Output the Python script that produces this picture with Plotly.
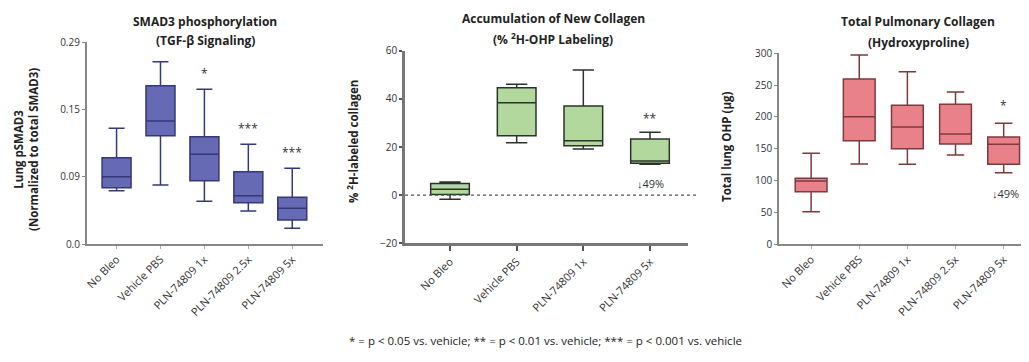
import plotly.graph_objects as go

# ---- data ----
cats5 = ["No Bleo", "Vehicle PBS", "PLN-74809 1x", "PLN-74809 2.5x", "PLN-74809 5x"]
cats4 = ["No Bleo", "Vehicle PBS", "PLN-74809 1x", "PLN-74809 5x"]

# Panel 1: SMAD3 (axis scale 0..0.29, evenly spaced labels)
smad_lo = [0.0765, 0.0847, 0.0613, 0.0474, 0.0225]
smad_q1 = [0.0808, 0.1555, 0.0909, 0.0593, 0.0345]
smad_med = [0.0966, 0.1766, 0.1288, 0.0693, 0.0513]
smad_q3 = [0.1239, 0.2273, 0.1540, 0.1038, 0.0670]
smad_hi = [0.1661, 0.2617, 0.2221, 0.1431, 0.1087]
smad_ticktext = ["0.0", "0.09", "0.15", "0.29"]
smad_sig = ["", "", "*", "***", "***"]

# Panel 2: % 2H labeled collagen
lab_lo = [-1.7, 21.8, 19.2, 12.8]
lab_q1 = [0.3, 24.7, 20.5, 13.2]
lab_med = [2.5, 38.4, 22.6, 14.2]
lab_q3 = [4.8, 44.6, 37.0, 23.3]
lab_hi = [5.5, 46.1, 52.0, 26.1]
lab_sig = ["", "", "", "**"]

# Panel 3: Total lung OHP
ohp_lo = [50.8, 125.8, 125.4, 140.0, 112.2]
ohp_q1 = [82.3, 162.5, 150.0, 157.3, 125.4]
ohp_med = [99.1, 200.2, 184.0, 173.0, 156.8]
ohp_q3 = [103.3, 259.6, 218.2, 220.0, 168.3]
ohp_hi = [142.7, 297.3, 271.0, 239.0, 189.9]
ohp_sig = ["", "", "", "", "*"]

# ---- layout helpers (page has an 8px body margin) ----
OFF = 8
W, H = 1029 - 2 * OFF, 362 - 2 * OFF


def PX(X):
    return min(1.0, max(0.0, (X - OFF) / W))


def PY(Y):
    return 1 - (Y - OFF) / H


FONT = "Open Sans, Liberation Sans, sans-serif"

fig = go.Figure()


def add_box(xa, ya, cats, lo, q1, med, q3, hi, fill, line, width):
    fig.add_trace(go.Box(
        x=list(range(len(cats))), q1=q1, median=med, q3=q3,
        lowerfence=lo, upperfence=hi,
        fillcolor=fill, line=dict(color=line, width=1.5),
        width=width, whiskerwidth=0.55,
        xaxis=xa, yaxis=ya, showlegend=False, boxpoints=False,
        hoverinfo="skip"))


add_box("x", "y", cats5, smad_lo, smad_q1, smad_med, smad_q3, smad_hi,
        "#6669b3", "#353879", 0.66)
add_box("x2", "y2", cats4, lab_lo, lab_q1, lab_med, lab_q3, lab_hi,
        "#b2d89e", "#2b3328", 0.58)
add_box("x3", "y3", cats5, ohp_lo, ohp_q1, ohp_med, ohp_q3, ohp_hi,
        "#e9818a", "#7d3a3e", 0.66)

tickfont = dict(family=FONT, size=10, color="#333")
xtickfont = dict(family=FONT, size=11, color="#333")

common_x = dict(showgrid=False, zeroline=False, showline=True, linecolor="#888",
                linewidth=1.5, tickangle=-45, tickfont=xtickfont, ticks="outside",
                ticklen=3, tickcolor="#aaa", automargin=False)
common_y = dict(showgrid=False, zeroline=False, showline=True, linecolor="#888",
                linewidth=1.5, tickfont=tickfont, ticks="outside", ticklen=3,
                tickcolor="#888", automargin=False)

fig.update_layout(
    width=W, height=H, margin=dict(l=0, r=0, t=0, b=0, autoexpand=False),
    paper_bgcolor="white", plot_bgcolor="white",
    xaxis=dict(common_x, domain=[PX(86.7), PX(323)], range=[-0.68, 4.7],
               tickvals=list(range(5)), ticktext=cats5, anchor="y"),
    yaxis=dict(common_y, domain=[PY(244), PY(42)], range=[0, 0.29],
               tickvals=[0, 0.29 / 3, 2 * 0.29 / 3, 0.29], ticktext=smad_ticktext,
               anchor="x"),
    xaxis2=dict(common_x, domain=[PX(405), PX(688)], range=[-0.675, 3.57],
                tickvals=list(range(4)), ticktext=cats4, anchor="y2",
                linewidth=2.5, linecolor="#777", ticklen=5, tickcolor="#555",
                tickwidth=2),
    yaxis2=dict(common_y, domain=[PY(243.3), PY(50.7)], range=[-20, 60],
                tickvals=[-20, 0, 20, 40, 60], anchor="x2", linewidth=2.5,
                linecolor="#777", tickcolor="#555", tickwidth=2),
    xaxis3=dict(common_x, domain=[PX(779), 1.0], range=[-0.667, 4.36],
                tickvals=list(range(5)), ticktext=cats5, anchor="y3"),
    yaxis3=dict(common_y, domain=[PY(244), PY(53.3)], range=[0, 300],
                tickvals=[0, 50, 100, 150, 200, 250, 300], anchor="x3"),
)

# dotted zero line in panel 2
fig.add_shape(type="line", xref="x2 domain", yref="y2", x0=0, x1=1.03, y0=0, y1=0,
              line=dict(color="#555", width=1.2, dash="dot"))

# panel titles (one annotation per line)
titlefont = dict(family=FONT, size=12, color="#222")
titles = [
    ("SMAD3 phosphorylation", 205, 21),
    ("(TGF-β Signaling)", 205, 41),
    ("Accumulation of New Collagen", 553, 19),
    ("(% <sup>2</sup>H-OHP Labeling)", 553, 39),
    ("Total Pulmonary Collagen", 918, 21),
    ("(Hydroxyproline)", 918, 42),
]
for t, px, py in titles:
    fig.add_annotation(text="<b>" + t + "</b>", xref="paper", yref="paper",
                       x=PX(px), y=PY(py), showarrow=False,
                       font=titlefont, xanchor="center", yanchor="middle")

# y-axis titles
ytfont = dict(family=FONT, size=11.5, color="#222")
ytitles = [
    ("<b>Lung pSMAD3<br>(Normalized to total SMAD3)</b>", 26, 150),
    ("<b>% <sup>2</sup>H-labeled collagen</b>", 352, 142),
    ("<b>Total lung OHP (µg)</b>", 726, 147),
]
for t, px, py in ytitles:
    fig.add_annotation(text=t, xref="paper", yref="paper", x=PX(px), y=PY(py),
                       showarrow=False, textangle=-90, font=ytfont,
                       xanchor="center", yanchor="middle")

sigfont = dict(family=FONT, size=12, color="#333")
for i, s in enumerate(smad_sig):
    if s:
        fig.add_annotation(text=s, x=i, y=smad_hi[i], xref="x", yref="y",
                           showarrow=False, yshift=16, font=sigfont)
for i, s in enumerate(lab_sig):
    if s:
        fig.add_annotation(text=s, x=i, y=lab_hi[i], xref="x2", yref="y2",
                           showarrow=False, yshift=14, font=sigfont)
for i, s in enumerate(ohp_sig):
    if s:
        fig.add_annotation(text=s, x=i, y=ohp_hi[i], xref="x3", yref="y3",
                           showarrow=False, yshift=18, font=sigfont)

pctfont = dict(family=FONT, size=11, color="#333")
fig.add_annotation(text="↓49%", x=3, y=lab_lo[3], xref="x2", yref="y2",
                   showarrow=False, yshift=-19, font=pctfont)
fig.add_annotation(text="↓49%", xref="paper", yref="y3", x=1.0, y=ohp_lo[4],
                   xanchor="right", showarrow=False, yshift=-21, font=pctfont)

fig.add_annotation(text="* = p < 0.05 vs. vehicle; ** = p < 0.01 vs. vehicle; *** = p < 0.001 vs. vehicle",
                   xref="paper", yref="paper", x=PX(545), y=PY(350),
                   showarrow=False, font=dict(family=FONT, size=11.5, color="#222"))

fig.write_html("out.html")
